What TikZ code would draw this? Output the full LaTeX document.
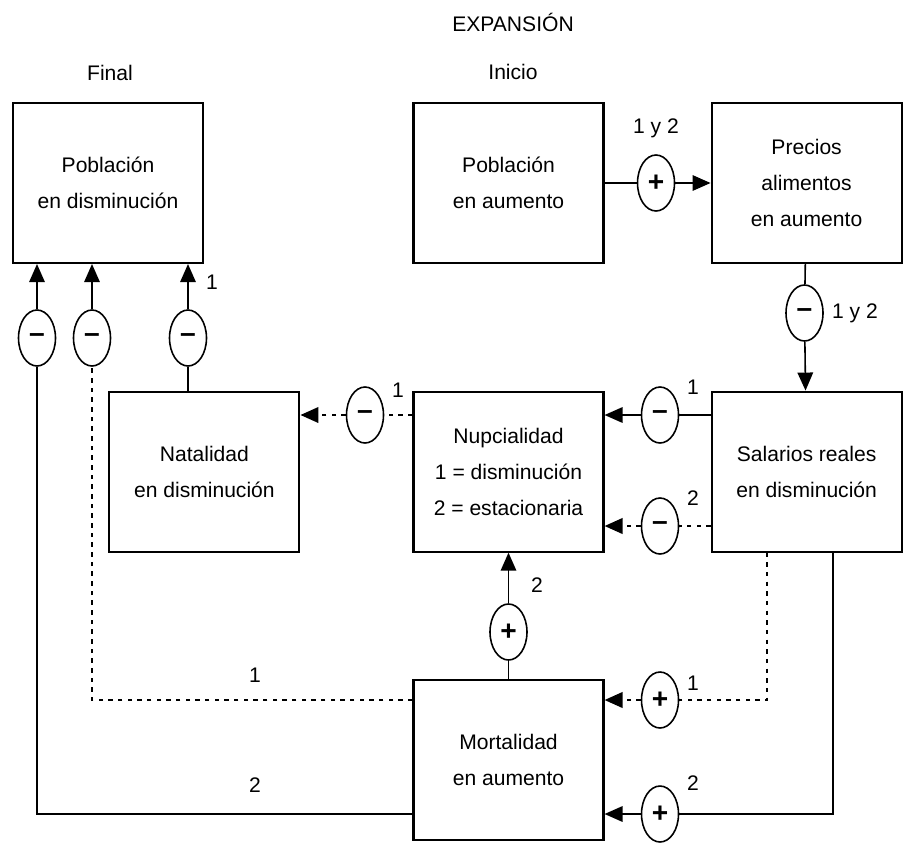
\documentclass[tikz,border=0pt]{standalone}
\usepackage{fontspec}
\setmainfont{Liberation Sans}
\usetikzlibrary{arrows.meta,positioning,shapes.geometric}

\begin{document}
\begin{tikzpicture}[
  node distance=2.53cm and 2.12cm,
  line width=.9pt,
  estado/.style={draw,line width=1.2pt,minimum width=3.8cm,minimum height=3.2cm,align=center,font=\fontsize{12}{20.5}\selectfont},
  signo/.style={draw,ellipse,minimum width=.74cm,minimum height=1.12cm,inner sep=0pt,font=\fontsize{16}{16}\selectfont\bfseries},
  num/.style={font=\fontsize{12}{14}\selectfont,inner sep=1pt},
  flecha/.style={-{Triangle[length=3.6mm,width=3.1mm]}},
  punteado/.style={line width=1.3pt,dash pattern=on 2.5pt off 3pt}
]
  \useasboundingbox (0,0) rectangle (18.16,-16.94);

  \node[num] (expansion) at (10.26,-0.44) {EXPANSIÓN};
  \node[num] (inicio) at (10.26,-1.44) {Inicio};
  \node[num] (final) at (2.2,-1.46) {Final};

  \node[estado] (pobaum) at (10.17,-3.66) {Población\\en aumento};
  \node[estado,right=of pobaum] (precios) {Precios\\alimentos\\en aumento};
  \node[estado,below=of pobaum] (nupc) {Nupcialidad\\1 = disminución\\2 = estacionaria};
  \node[estado,below=of precios] (salar) {Salarios reales\\en disminución};
  \node[estado,below=of nupc] (mort) {Mortalidad\\en aumento};
  \node[estado,left=2.24cm of nupc] (natal) {Natalidad\\en disminución};
  \node[estado] (pobdis) at (2.16,-3.66) {Población\\en disminución};

  \node[signo] (s1) at (13.12,-3.66) {+};
  \node[signo] (s2) at (16.09,-6.26) {--};
  \node[signo] (s3) at (13.2,-8.3) {--};
  \node[signo] (s4) at (13.2,-10.52) {--};
  \node[signo] (s5) at (7.3,-8.3) {--};
  \node[signo] (s6) at (0.74,-6.76) {--};
  \node[signo] (s7) at (1.84,-6.76) {--};
  \node[signo] (s8) at (3.76,-6.76) {--};
  \node[signo] (s9) at (10.17,-12.64) {+};
  \node[signo] (s10) at (13.2,-14.0) {+};
  \node[signo] (s11) at (13.2,-16.28) {+};

  \coordinate (r1) at (15.34,-14.0);
  \coordinate (r2) at (16.66,-16.28);
  \coordinate (l1) at (1.84,-14.0);
  \coordinate (l2) at (0.74,-16.28);

  \draw (pobaum) -- (s1);
  \draw[flecha] (s1) -- (precios);
  \draw (precios) -- (s2);
  \draw[flecha] (s2) -- (salar);
  \draw (s3 -| salar.west) -- (s3);
  \draw[flecha] (s3) -- (s3 -| nupc.east);
  \draw[punteado] (s4 -| salar.west) -- (s4);
  \draw[punteado,flecha] (s4) -- (s4 -| nupc.east);
  \draw[punteado] (s5 -| nupc.west) -- (s5);
  \draw[punteado,flecha] (s5) -- (s5 -| natal.east);
  \draw (natal.north -| s8) -- (s8);
  \draw[flecha] (s8) -- (s8 |- pobdis.south);
  \draw (mort) -- (s9);
  \draw[flecha] (s9) -- (nupc);

  \draw[punteado] (salar.south -| r1) -- (r1) -- (s10);
  \draw[punteado,flecha] (s10) -- (s10 -| mort.east);
  \draw (salar.south -| r2) -- (r2) -- (s11);
  \draw[flecha] (s11) -- (s11 -| mort.east);

  \draw[punteado] (l1 -| mort.west) -- (l1) -- (s7);
  \draw[flecha] (s7) -- (s7 |- pobdis.south);
  \draw (l2 -| mort.west) -- (l2) -- (s6);
  \draw[flecha] (s6) -- (s6 |- pobdis.south);

  \node[num] (n1) at (13.12,-2.56) {1 y 2};
  \node[num] (n2) at (17.1,-6.26) {1 y 2};
  \node[num] (n3) at (13.86,-7.74) {1};
  \node[num] (n4) at (13.86,-9.96) {2};
  \node[num] (n5) at (7.96,-7.8) {1};
  \node[num] (n6) at (4.24,-5.64) {1};
  \node[num] (n7) at (10.74,-11.7) {2};
  \node[num] (n8) at (13.86,-13.66) {1};
  \node[num] (n9) at (13.86,-15.66) {2};
  \node[num] (n10) at (5.1,-13.5) {1};
  \node[num] (n11) at (5.1,-15.7) {2};
\end{tikzpicture}
\end{document}
